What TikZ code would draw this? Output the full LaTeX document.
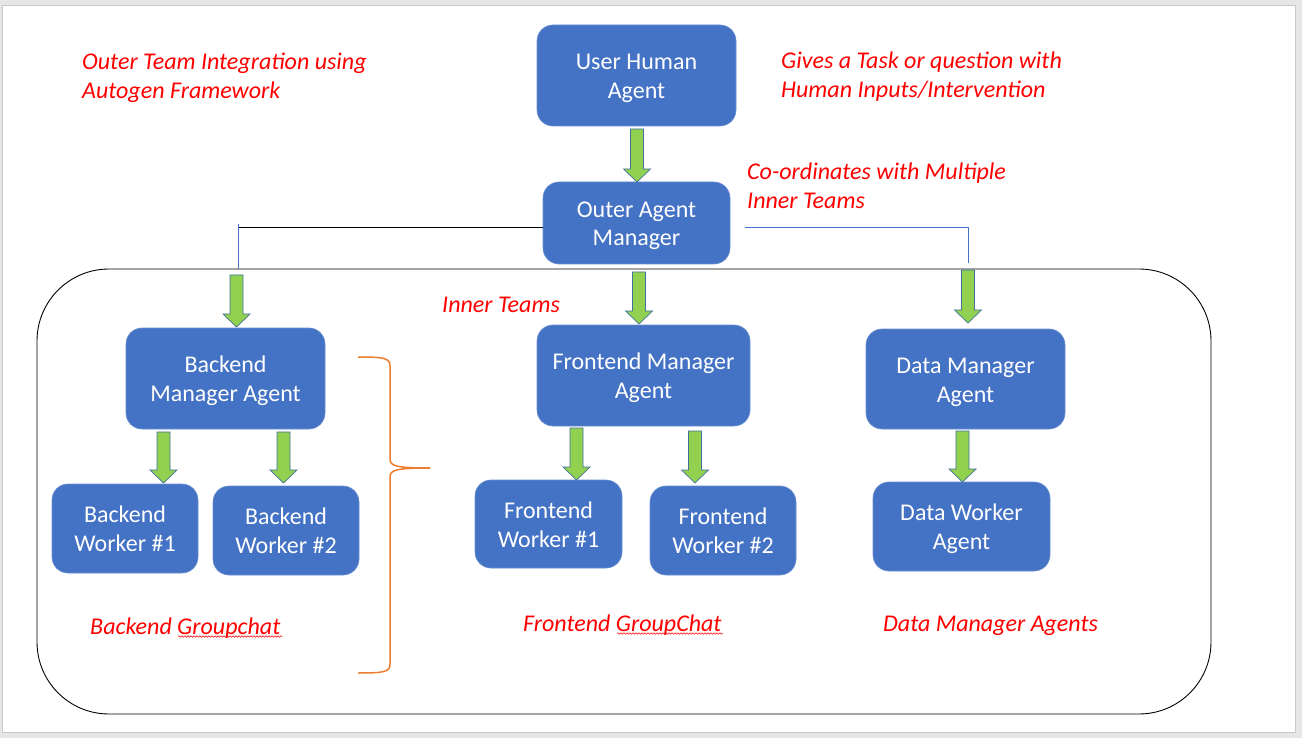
\documentclass[tikz,border=0pt]{standalone}
\usepackage{fontspec}
\setmainfont{Carlito}
\usetikzlibrary{calc,decorations.pathmorphing}
\definecolor{boxblue}{HTML}{4472C4}
\definecolor{boxedge}{HTML}{6A8FD2}
\definecolor{agreen}{HTML}{92D050}
\definecolor{aedge}{HTML}{41719C}
\definecolor{bracecol}{HTML}{ED7D31}
\definecolor{linkblue}{HTML}{4472C4}
\definecolor{pagegray}{HTML}{E6E6E6}
\definecolor{pageedge}{HTML}{C8C8C8}
\newcommand\ctext[1]{\begin{tabular}{@{}c@{}}\rule{0pt}{25.7pt}#1\end{tabular}}
\newcommand\ltext[1]{\begin{tabular}{@{}l@{}}\rule{0pt}{25.7pt}#1\end{tabular}}
\tikzset{
  agentbox/.style={draw=boxedge, line width=0.6pt, fill=boxblue, rounded corners=16pt,
    text=white, inner sep=0pt,
    font=\fontsize{24}{29}\selectfont},
  note/.style={text=red, anchor=west, inner sep=0pt,
    font=\fontsize{24}{29}\selectfont\itshape},
  blockarrow/.style={draw=aedge, line width=0.7pt, fill=agreen, line join=miter},
  squiggle/.style={draw=red, line width=0.5pt, decorate,
    decoration={snake, amplitude=0.8pt, segment length=3pt}},
}
\newcommand\garrow[3]{%
  \draw[blockarrow] ({#1-6.5},#2) -- ({#1+6.5},#2) -- ({#1+6.5},{#3-13}) -- ({#1+13.5},{#3-13})
    -- (#1,#3) -- ({#1-13.5},{#3-13}) -- ({#1-6.5},{#3-13}) -- cycle;}
\begin{document}
\begin{tikzpicture}[x=1pt,y=-1pt]
% page
\fill[pagegray] (0,0) rectangle (1302,738);
\draw[pageedge, fill=white, line width=0.8pt] (2,5) rectangle (1295,732);
\useasboundingbox (0,0) rectangle (1302,738);

% container
\draw[black, line width=0.9pt, rounded corners=72pt] (37,269) rectangle (1211,714);

% agent boxes
\node[agentbox, minimum width=199pt, minimum height=101pt] (user) at (636.5,75.5) {\ctext{User Human\\Agent}};
\node[agentbox, minimum width=187pt, minimum height=82pt] (outer) at (636.5,223) {\ctext{Outer Agent\\Manager}};
\node[agentbox, minimum width=199pt, minimum height=101pt] (bmgr) at (225.5,378.5) {\ctext{Backend\\Manager Agent}};
\node[agentbox, minimum width=146pt, minimum height=89pt] (bw1) at (125,528.5) {\ctext{Backend\\Worker \#1}};
\node[agentbox, minimum width=146pt, minimum height=89pt] (bw2) at (286,530.5) {\ctext{Backend\\Worker \#2}};
\node[agentbox, minimum width=213pt, minimum height=101pt] (fmgr) at (643.5,375.5) {\ctext{Frontend Manager\\Agent}};
\node[agentbox, minimum width=147pt, minimum height=88pt] (fw1) at (548.5,524) {\ctext{Frontend\\Worker \#1}};
\node[agentbox, minimum width=146pt, minimum height=89pt] (fw2) at (723,530.5) {\ctext{Frontend\\Worker \#2}};
\node[agentbox, minimum width=199pt, minimum height=100pt] (dmgr) at (965.5,379) {\ctext{Data Manager\\Agent}};
\node[agentbox, minimum width=177pt, minimum height=89pt] (dw) at (961.5,526.5) {\ctext{Data Worker\\Agent}};

% link lines from outer manager
\coordinate (lk) at (238,227);
\coordinate (lkd) at (238,269);
\coordinate (rk) at (968,227);
\coordinate (rkd) at (968,263);
\draw[black, line width=0.8pt] (outer.west |- lk) -- (lk);
\draw[linkblue, line width=0.8pt] (238,224) -- (lkd);
\draw[linkblue, line width=0.8pt] ($(outer.east |- rk)+(15,0)$) -- (rk) -- (rkd);

% block arrows
\garrow{637}{129}{182}
\garrow{639}{272}{324}
\garrow{236.5}{275}{327}
\garrow{968}{270}{323}
\garrow{163.5}{432}{483}
\garrow{283.5}{432}{483}
\garrow{576.5}{428}{480}
\garrow{695}{431}{483}
\garrow{962.5}{431}{482}

% brace
\draw[bracecol, line width=1.5pt] (358,357) .. controls (384,357) and (390,358) .. (390,366)
  -- (390,459) .. controls (390,466) and (396,468) .. (430,468);
\draw[bracecol, line width=1.5pt] (430,468) .. controls (396,468) and (390,470) .. (390,477)
  -- (390,664) .. controls (390,672) and (384,673) .. (358,673);

% notes
\node[note] (n1) at (82,75.5) {\ltext{Outer Team Integration using\\Autogen Framework}};
\node[note] (n2) at (781,75) {\ltext{Gives a Task or question with\\Human Inputs/Intervention}};
\node[note] (n3) at (747,185.5) {\ltext{Co-ordinates with Multiple\\Inner Teams}};
\node[note] (n4) at (442,304) {\ltext{Inner Teams}};
\node[note] (n5) at (90,626) {\ltext{Backend Groupchat}};
\node[note] (n6) at (523,623) {\ltext{Frontend GroupChat}};
\node[note] (n7) at (883,623) {\ltext{Data Manager Agents}};
\draw[squiggle] (178,636.5) -- (282,636.5);
\draw[squiggle] (617,633.5) -- (723,633.5);
\end{tikzpicture}
\end{document}
